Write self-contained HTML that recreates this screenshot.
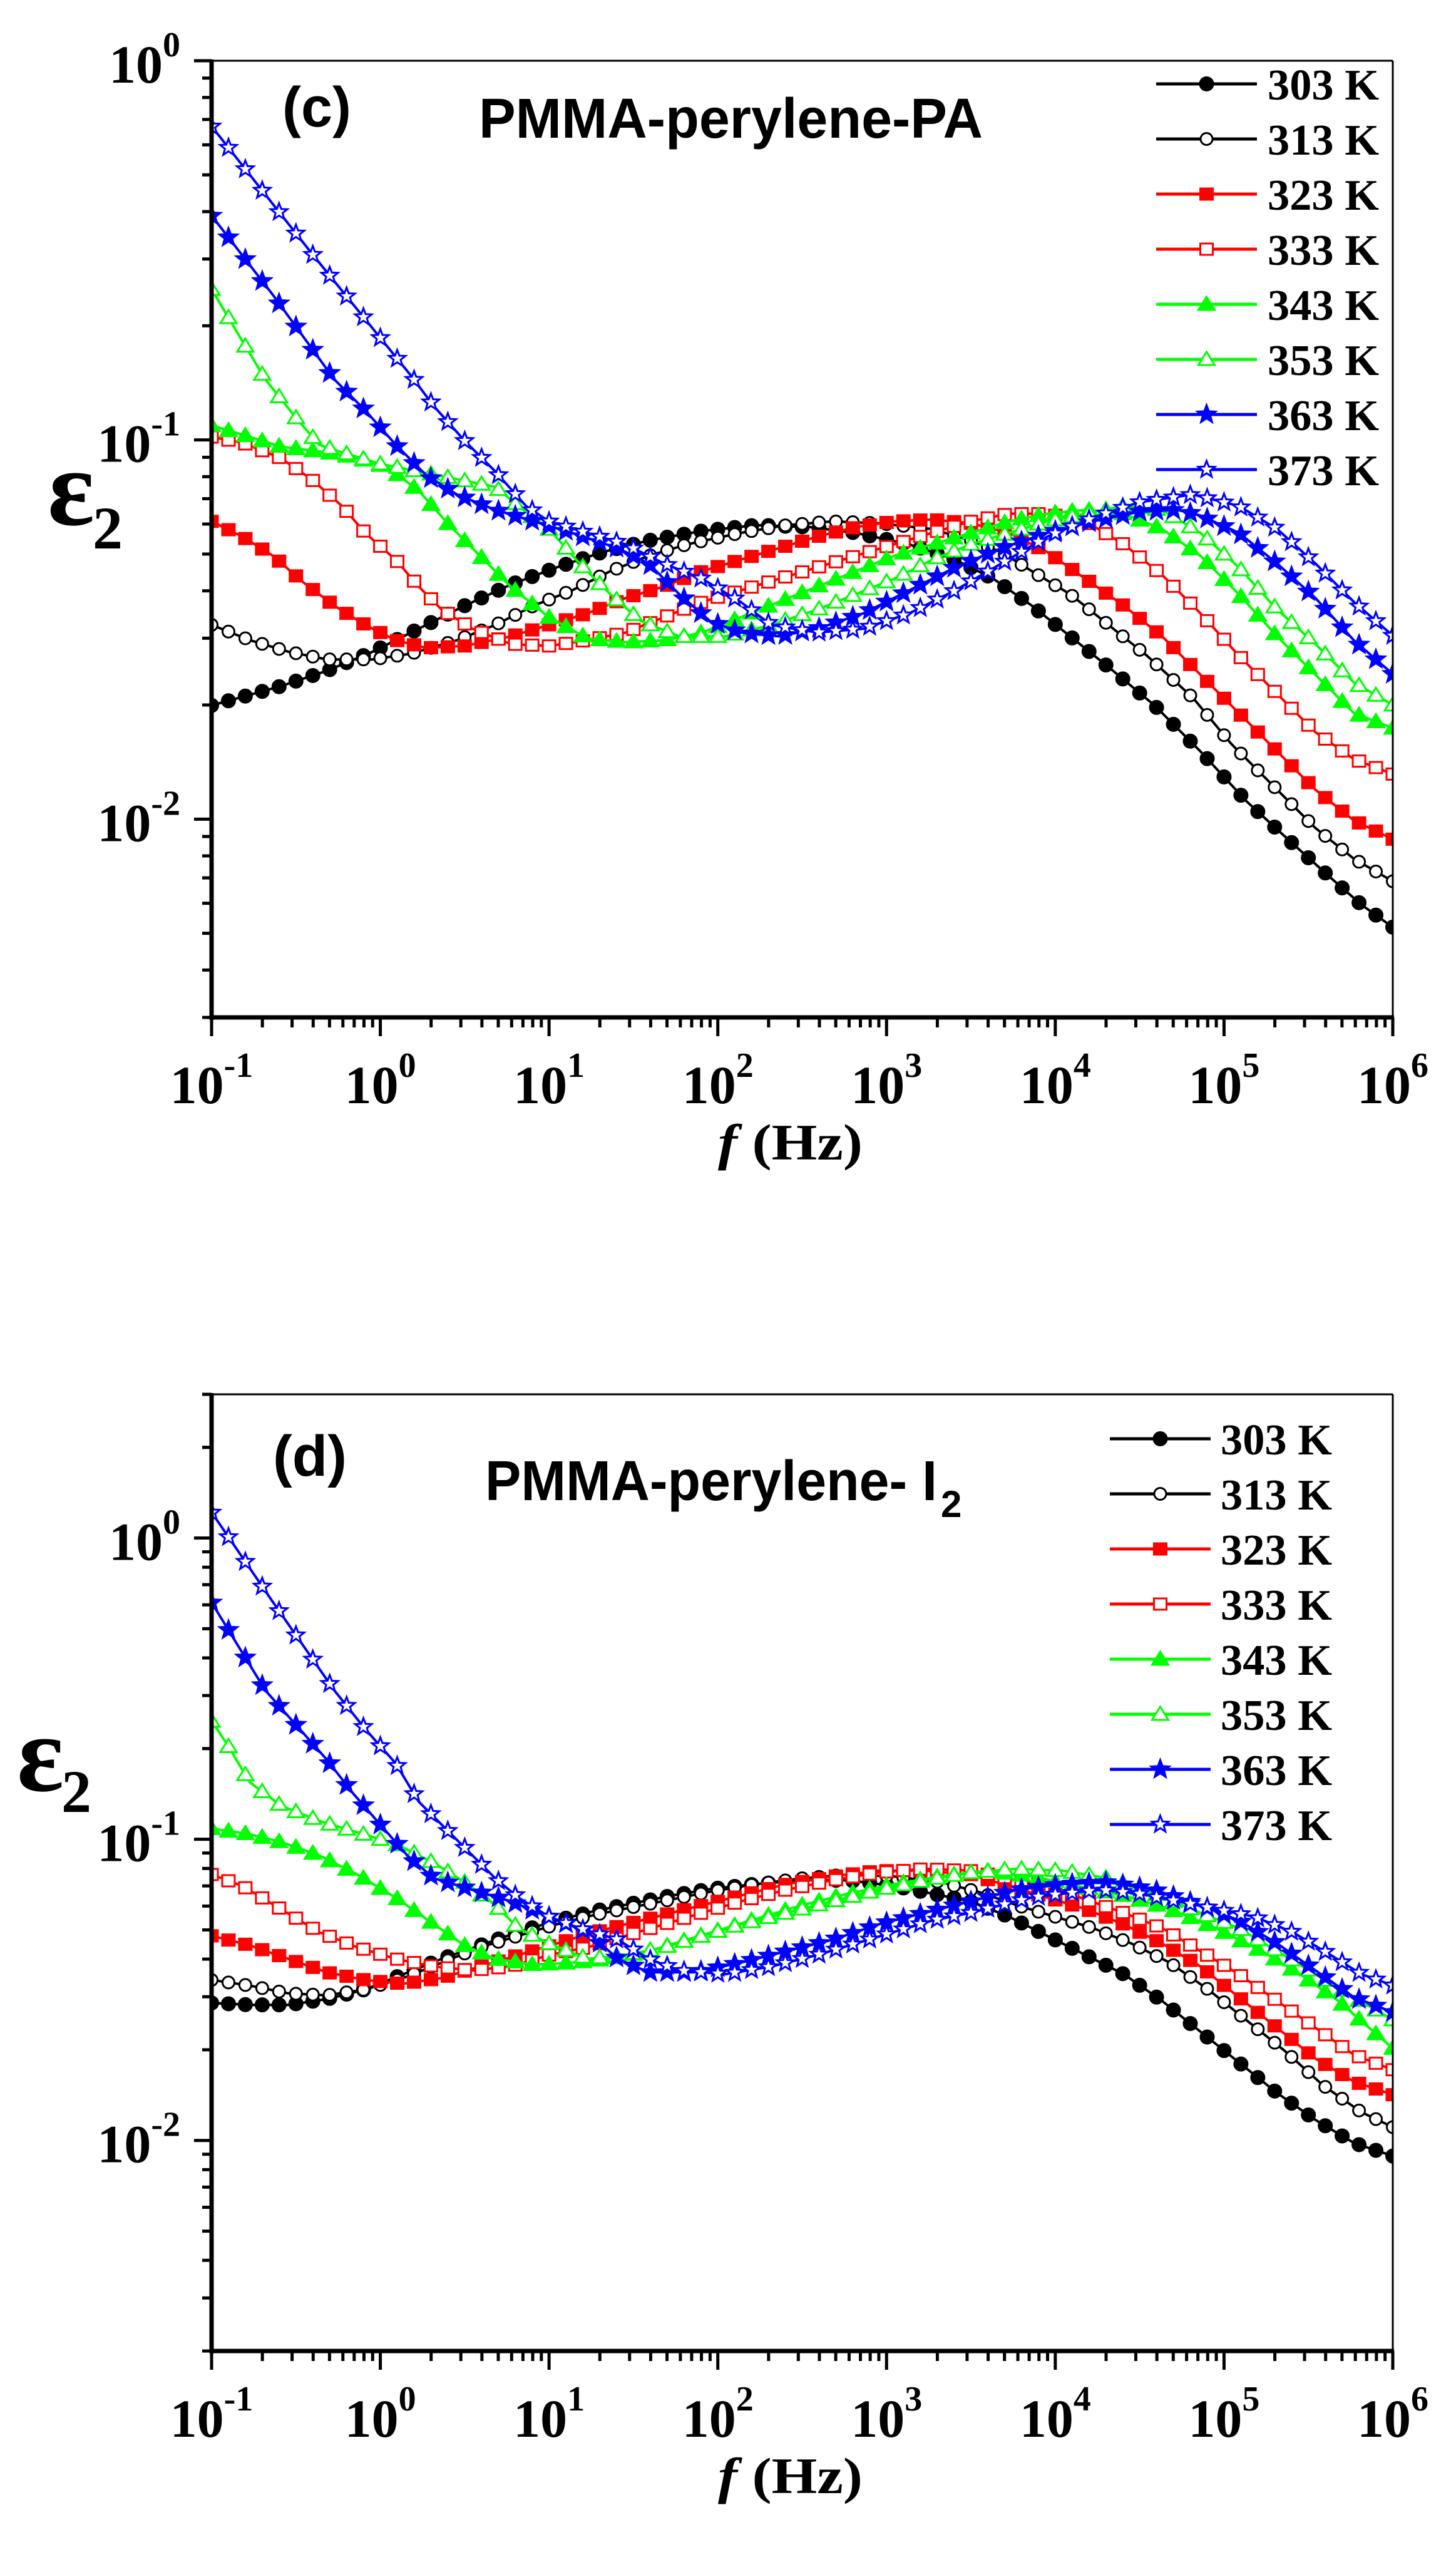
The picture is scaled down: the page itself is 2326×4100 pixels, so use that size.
<!DOCTYPE html>
<html><head><meta charset="utf-8">
<style>
html,body{margin:0;padding:0;background:#fff;}
svg{display:block;}
text{font-family:"Liberation Serif",serif;font-weight:bold;fill:#000;}
.sans{font-family:"Liberation Sans",sans-serif;font-weight:bold;}
</style></head>
<body>
<svg id="s" xmlns="http://www.w3.org/2000/svg" width="2326" height="4100" viewBox="0 0 2326 4100">
<rect width="2326" height="4100" fill="#fff"/>
<defs>
<clipPath id="c1"><rect x="338" y="97" width="1887" height="1528"/></clipPath>
<clipPath id="c2"><rect x="338" y="2227" width="1887" height="1528"/></clipPath>
</defs>
<g id="g1" clip-path="url(#c1)"></g>
<g id="g2" clip-path="url(#c2)"></g>
<g id="ax"></g>
<text class="sans" x="451" y="202" font-size="90" textLength="110" lengthAdjust="spacingAndGlyphs">(c)</text>
<text class="sans" x="765" y="220" font-size="90" textLength="805" lengthAdjust="spacingAndGlyphs">PMMA-perylene-PA</text>
<text class="sans" x="436" y="2357" font-size="92" textLength="118" lengthAdjust="spacingAndGlyphs">(d)</text>
<text class="sans" x="775" y="2396" font-size="90" textLength="722" lengthAdjust="spacingAndGlyphs">PMMA-perylene- I</text>
<text class="sans" x="1503" y="2423" font-size="60">2</text>
<text x="76" y="838" font-size="175">ε</text><text x="148" y="876" font-size="96">2</text>
<text x="27" y="2860" font-size="175">ε</text><text x="98" y="2894" font-size="96">2</text>
<text x="1147" y="1852" font-size="82" textLength="231" lengthAdjust="spacingAndGlyphs"><tspan font-style="italic">f</tspan> (Hz)</text>
<text x="1147" y="3982" font-size="82" textLength="231" lengthAdjust="spacingAndGlyphs"><tspan font-style="italic">f</tspan> (Hz)</text>
</svg>
<script>
(function(){
const NS="http://www.w3.org/2000/svg";
function el(tag,attrs,parent){const e=document.createElementNS(NS,tag);for(const k in attrs)e.setAttribute(k,attrs[k]);if(parent)parent.appendChild(e);return e;}
const ax=document.getElementById('ax');
const L=338,R=2225,DEC=(R-L)/7;
function xOf(lf){return L+(lf+1)*DEC;}
const plots=[
 {top:97,bot:1625,ymax:0,ymin:Math.log10(0.003)},
 {top:2227,bot:3755,ymax:Math.log10(3),ymin:Math.log10(0.002)}
];
plots.forEach(function(p,pi){
 const H=p.bot-p.top, span=p.ymax-p.ymin;
 p.yOf=function(v){return p.top+(p.ymax-Math.log10(v))/span*H;};
 el('line',{x1:L,y1:p.top,x2:R,y2:p.top,stroke:'#000','stroke-width':3},ax);
 el('line',{x1:R,y1:p.top,x2:R,y2:p.bot,stroke:'#000','stroke-width':3},ax);
 el('line',{x1:L,y1:p.top-2,x2:L,y2:p.bot+4,stroke:'#000','stroke-width':7},ax);
 el('line',{x1:L-3,y1:p.bot,x2:R+2,y2:p.bot,stroke:'#000','stroke-width':7},ax);
 for(let d=-1;d<=6;d++){
  const x=xOf(d);
  el('line',{x1:x,y1:p.bot,x2:x,y2:p.bot+30,stroke:'#000','stroke-width':5},ax);
  const t=el('text',{x:x,y:p.bot+137,'font-size':86,'text-anchor':'middle'},ax);
  t.appendChild(document.createTextNode('10'));
  const s=el('tspan',{dy:-42,'font-size':56},t);s.textContent=String(d);
  if(d<6)for(let m=2;m<=9;m++){const xm=xOf(d+Math.log10(m));
   el('line',{x1:xm,y1:p.bot,x2:xm,y2:p.bot+16,stroke:'#000','stroke-width':5},ax);}
 }
 for(let d=-3;d<=0;d++){
  for(let m=1;m<=9;m++){
   const v=m*Math.pow(10,d);const lv=Math.log10(v);
   if(lv<p.ymin-1e-6||lv>p.ymax+1e-6)continue;
   const y=p.yOf(v);
   el('line',{x1:L,y1:y,x2:L-(m==1?28:15),y2:y,stroke:'#000','stroke-width':5},ax);
   if(m==1){
    const t=el('text',{x:288,y:y+35,'font-size':86,'text-anchor':'end'},ax);
    t.appendChild(document.createTextNode('10'));
    const s=el('tspan',{dy:-42,'font-size':56},t);s.textContent=String(d);
   }
  }
 }
 if(pi==1){[2,3].forEach(function(v){const y=p.yOf(v);el('line',{x1:L,y1:y,x2:L-15,y2:y,stroke:'#000','stroke-width':5},ax);});}
});

const COL={k:'#000000',r:'#ff0000',g:'#00ff00',b:'#0000ff'};
function star(cx,cy,r){let pts=[];for(let i=0;i<10;i++){const a=-Math.PI/2+i*Math.PI/5;const rr=i%2?r*0.42:r;pts.push((cx+rr*Math.cos(a)).toFixed(1)+','+(cy+rr*Math.sin(a)).toFixed(1));}return pts.join(' ');}
function marker(g,type,fill,c,x,y){
 const f=fill?c:'#fff';const sw=3;
 if(type=='o')el('circle',{cx:x,cy:y,r:fill?10.5:9.5,fill:f,stroke:c,'stroke-width':sw},g);
 else if(type=='s')el('rect',{x:x-10,y:y-9,width:20,height:18,fill:f,stroke:c,'stroke-width':sw},g);
 else if(type=='t')el('polygon',{points:x+','+(y-12)+' '+(x-13)+','+(y+9)+' '+(x+13)+','+(y+9),fill:f,stroke:c,'stroke-width':sw},g);
 else if(type=='*')el('polygon',{points:star(x,y,fill?15:14),fill:f,stroke:c,'stroke-width':sw},g);
}
function drawSeries(g,pts,yoff,col,type,fill){
 const P=pts.map(function(p){return [326+p[0]*1.2245,yoff+p[1]*0.6124];});
 el('polyline',{points:P.map(function(p){return p[0].toFixed(1)+','+p[1].toFixed(1);}).join(' '),fill:'none',stroke:col,'stroke-width':4,'stroke-linejoin':'round'},g);
 for(let k=0;k<=70;k++){
  const x=xOf(-1+k*0.1);
  let y=null;
  for(let i=0;i<P.length-1;i++){if(x>=P[i][0]&&x<=P[i+1][0]){const t=(x-P[i][0])/(P[i+1][0]-P[i][0]||1);y=P[i][1]+t*(P[i+1][1]-P[i][1]);break;}}
  if(y===null){y=(x<P[0][0])?P[0][1]:P[P.length-1][1];}
  marker(g,type,fill,col,x,y);
 }
}
const TOPS=[
 ['k','o',1,[[10,860],[100,810],[160,770],[220,720],[280,660],[340,600],[400,545],[460,500],[520,460],[580,430],[650,405],[720,390],[790,395],[850,410],[920,440],[980,480],[1030,530],[1080,600],[1130,680],[1180,760],[1240,860],[1300,980],[1360,1110],[1420,1220],[1470,1310],[1510,1380],[1552,1440]]],
 ['k','o',0,[[10,650],[60,690],[110,720],[160,740],[220,740],[270,725],[330,690],[380,650],[430,600],[480,560],[530,510],[580,470],[630,440],[700,410],[760,390],[820,380],[880,385],[950,400],[1000,430],[1040,460],[1080,510],[1130,570],[1180,650],[1230,730],[1290,840],[1340,960],[1400,1080],[1450,1180],[1500,1260],[1552,1320]]],
 ['r','s',1,[[10,380],[50,420],[90,470],[130,540],[170,600],[210,650],[250,690],[290,710],[340,705],[400,680],[450,650],[500,620],[550,580],[600,550],[650,510],[700,480],[750,450],[800,420],[850,395],[900,380],[950,375],[1000,385],[1050,410],[1100,460],[1150,530],[1200,600],[1250,680],[1300,780],[1350,880],[1400,980],[1450,1080],[1500,1160],[1552,1210]]],
 ['r','s',0,[[10,160],[50,175],[100,215],[140,270],[180,340],[210,410],[250,480],[280,550],[310,610],[350,660],[400,700],[450,705],[500,690],[550,670],[600,630],[650,590],[700,560],[750,530],[800,500],[850,470],[900,440],[950,410],[1000,380],[1050,360],[1100,360],[1150,380],[1200,440],[1250,520],[1300,620],[1350,730],[1400,830],[1450,930],[1500,1000],[1552,1040]]],
 ['g','t',1,[[10,130],[60,160],[100,185],[160,200],[200,215],[240,240],[280,300],[320,390],[360,470],[400,550],[450,630],[500,685],[550,695],[600,690],[650,670],[700,630],[750,590],[800,550],[850,510],[900,470],[950,440],[1000,410],[1050,380],[1100,360],[1150,350],[1200,360],[1250,400],[1300,470],[1350,570],[1400,680],[1450,780],[1500,880],[1552,920]]],
 ['g','t',0,[[10,-225],[50,-90],[80,10],[120,110],[150,180],[180,200],[230,230],[280,250],[330,270],[380,290],[410,340],[450,400],[490,490],[530,570],[570,640],[620,680],[680,680],[740,650],[800,610],[850,570],[900,530],[950,480],[1000,440],[1050,410],[1100,380],[1150,360],[1200,340],[1250,350],[1300,410],[1350,500],[1400,610],[1450,700],[1500,800],[1552,860]]],
 ['b','*',1,[[10,-417],[90,-210],[170,10],[210,90],[250,180],[290,260],[330,310],[380,350],[430,380],[480,410],[540,450],[580,490],[620,570],[660,640],[700,670],[750,680],[800,660],[860,620],[920,560],[980,500],[1040,450],[1100,410],[1160,380],[1220,355],[1270,350],[1300,365],[1350,410],[1400,490],[1450,580],[1500,690],[1552,780]]],
 ['b','*',0,[[10,-650],[140,-320],[270,0],[300,80],[340,170],[380,250],[420,340],[450,380],[500,410],[550,440],[600,490],[650,530],[700,590],[740,650],[800,670],[860,660],[920,620],[980,560],[1040,490],[1100,420],[1160,370],[1220,330],[1290,310],[1350,340],[1400,400],[1450,490],[1500,590],[1552,680]]]
];
const BOTS=[
 ['k','o',1,[[10,815],[60,820],[110,820],[160,805],[210,780],[260,740],[310,700],[360,665],[410,630],[460,600],[510,575],[560,555],[610,535],[660,518],[720,505],[780,495],[840,495],[900,510],[950,530],[1000,550],[1050,590],[1100,640],[1150,690],[1200,740],[1250,810],[1300,890],[1350,970],[1400,1050],[1450,1120],[1500,1180],[1552,1215]]],
 ['k','o',0,[[10,755],[60,770],[110,790],[160,795],[210,780],[260,750],[310,710],[360,670],[410,640],[460,610],[510,585],[560,565],[610,545],[660,525],[720,505],[780,490],[840,480],[900,485],[960,500],[1010,525],[1060,560],[1110,590],[1160,620],[1210,660],[1260,710],[1310,780],[1360,860],[1410,940],[1460,1030],[1510,1100],[1552,1140]]],
 ['r','s',1,[[10,640],[60,665],[110,700],[160,735],[210,755],[260,765],[310,750],[360,720],[410,690],[460,660],[510,630],[560,605],[610,580],[660,555],[710,530],[760,505],[820,485],[880,470],[940,470],[1000,480],[1050,510],[1100,540],[1150,570],[1200,610],[1250,660],[1300,720],[1350,800],[1400,880],[1450,960],[1500,1020],[1552,1055]]],
 ['r','s',0,[[10,480],[50,510],[100,570],[150,630],[200,670],[250,700],[300,720],[350,730],[400,720],[450,690],[500,670],[550,640],[600,610],[650,580],[700,550],[760,520],[820,495],[880,475],[940,465],[1000,470],[1050,490],[1100,510],[1150,545],[1200,580],[1250,620],[1300,680],[1350,740],[1400,810],[1450,880],[1500,950],[1552,990]]],
 ['g','t',1,[[10,360],[60,375],[100,395],[150,430],[200,480],[250,540],[300,610],[340,665],[380,700],[430,715],[480,710],[530,700],[580,680],[630,650],[680,620],[730,590],[780,560],[840,530],[900,505],[960,485],[1020,470],[1080,485],[1140,510],[1200,535],[1260,570],[1320,620],[1380,680],[1430,740],[1480,810],[1520,880],[1552,935]]],
 ['g','t',0,[[10,80],[30,140],[60,240],[100,300],[150,340],[200,370],[250,400],[300,450],[340,500],[380,560],[410,620],[450,660],[500,700],[550,690],[600,670],[650,640],[700,610],[760,580],[820,550],[880,520],[940,495],[1000,475],[1060,465],[1120,470],[1180,490],[1240,530],[1300,580],[1350,620],[1400,680],[1450,740],[1500,800],[1552,860]]],
 ['b','*',1,[[10,-229],[80,0],[120,90],[160,180],[195,270],[230,350],[265,430],[300,490],[350,520],[400,550],[450,590],[500,630],[540,700],[580,735],[640,735],[700,710],[760,680],[820,650],[880,610],[940,580],[1000,550],[1060,520],[1120,505],[1180,500],[1240,520],[1300,560],[1350,600],[1400,660],[1450,730],[1500,800],[1552,840]]],
 ['b','*',0,[[10,-464],[90,-230],[170,0],[210,100],[250,190],[280,290],[320,370],[350,430],[380,490],[410,540],[450,590],[490,620],[540,650],[580,700],[620,730],[680,740],[740,720],[800,690],[850,660],[900,630],[950,600],[1000,580],[1040,560],[1080,540],[1120,530],[1170,520],[1220,530],[1270,550],[1320,570],[1370,590],[1420,630],[1470,690],[1510,740],[1552,770]]]
];
const g1=document.getElementById('g1'),g2=document.getElementById('g2');
TOPS.forEach(function(s){drawSeries(g1,s[3],600,COL[s[0]],s[1],s[2]);});
BOTS.forEach(function(s){drawSeries(g2,s[3],2700,COL[s[0]],s[1],s[2]);});
const labels=['303 K','313 K','323 K','333 K','343 K','353 K','363 K','373 K'];
function legend(y0,x1,x2,xt){
 TOPS.forEach(function(s,i){
  const y=y0+i*88,c=COL[s[0]];
  el('line',{x1:x1,y1:y,x2:x2,y2:y,stroke:c,'stroke-width':5},ax);
  marker(ax,s[1],s[2],c,(x1+x2)/2,y);
  const t=el('text',{x:xt,y:y+25,'font-size':70,textLength:178,lengthAdjust:'spacingAndGlyphs'},ax);t.textContent=labels[i];
 });
}
legend(134,1847,2008,2025);
legend(2298,1773,1934,1950);
})();
</script>
</body></html>
